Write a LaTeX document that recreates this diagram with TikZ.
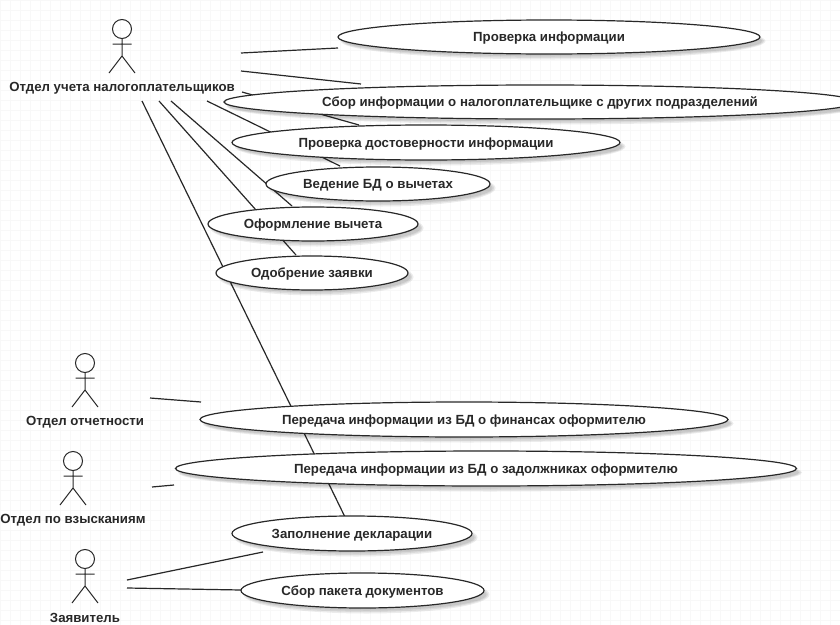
\documentclass[tikz,border=0pt]{standalone}
\usepackage{fontspec}
\setmainfont{Liberation Sans}
\usetikzlibrary{shapes.geometric}
\definecolor{gridc}{RGB}{248,248,248}
\definecolor{inkc}{RGB}{40,40,40}
\tikzset{
  uc/.style={ellipse,draw=inkc,line width=0.9pt,fill=white,inner sep=0pt,font=\bfseries\fontsize{9.93}{11}\selectfont,text=inkc,text depth=0pt},
  shadowc/.style={ellipse,fill=black,opacity=0.075,draw=none,inner sep=0pt},
  lnk/.style={draw=inkc,line width=0.9pt},
  stick/.style={draw=inkc,line width=0.75pt},
  head/.style={circle,draw=inkc,line width=0.75pt,inner sep=0pt,minimum size=14.25pt},
  lab/.style={font=\bfseries\fontsize{9.93}{11}\selectfont,text=inkc,inner sep=0pt},
}
\newcommand{\usecase}[6]{% name, cx, cy, w, h, text
  \foreach \g in {-1.5,0,1.5} {
    \node[shadowc,minimum width=(#4+\g*2)*0.75pt,minimum height=(#5+\g*2)*0.75pt] at (#2+4,#3+4) {};
  }
  \node[uc,minimum width=#4*0.75pt,minimum height=#5*0.75pt] (#1) at (#2,#3) {#6};
}
\newcommand{\actor}[4]{% name, x, heady, label
  \node[head] (#1) at (#2,#3) {};
  \coordinate (#1hip) at (#2,#3+27);
  \coordinate (#1al) at (#2-9.5,#3+15);
  \coordinate (#1ar) at (#2+9.5,#3+15);
  \coordinate (#1ll) at (#2-13,#3+44);
  \coordinate (#1lr) at (#2+13,#3+44);
  \draw[stick] (#1.south) -- (#1hip) (#1al) -- (#1ar) (#1ll) -- (#1hip) -- (#1lr);
  \node[lab] (#1lab) at (#2,#3+59) {#4};
}
\begin{document}
\begin{tikzpicture}[x=0.75pt,y=-0.75pt]
\useasboundingbox (0,0) rectangle (840,625);
\clip (0,0) rectangle (840,625);
\fill[white] (0,0) rectangle (840,625);
\draw[gridc,line width=0.4pt] foreach \i in {0,10,...,840} {(\i,0) -- (\i,625)} foreach \j in {0,10,...,620} {(0,\j) -- (840,\j)};
% connector ends
\coordinate (a1) at (241,53); \coordinate (b1) at (338,48);
\coordinate (a2) at (241,71); \coordinate (b2) at (361,84);
\coordinate (a3) at (242,92); \coordinate (b3) at (359,125);
\coordinate (a4) at (207,101); \coordinate (b4) at (340,166);
\coordinate (a5) at (171,101); \coordinate (b5) at (292,206);
\coordinate (a6) at (159,101); \coordinate (b6) at (296,255);
\coordinate (a7) at (142,101); \coordinate (b7) at (344.5,516);
\coordinate (a8) at (150,398); \coordinate (b8) at (201,402);
\coordinate (a9) at (152,487); \coordinate (b9) at (174,485);
\coordinate (a10) at (127,580); \coordinate (b10) at (263,552);
\coordinate (a11) at (127,588); \coordinate (b11) at (241,590);
\foreach \n in {1,...,11} {\draw[lnk] (a\n) -- (b\n);}
% use cases
\usecase{u1}{549}{37}{422}{34}{Проверка информации}
\usecase{u2}{540}{102}{632}{34}{Сбор информации о налогоплательщике с других подразделений}
\usecase{u3}{426}{142.5}{388}{35}{Проверка достоверности информации}
\usecase{u4}{378}{184}{224}{34}{Ведение БД о вычетах}
\usecase{u5}{313}{224}{210}{34}{Оформление вычета}
\usecase{u6}{312}{273}{192}{34}{Одобрение заявки}
\usecase{u7}{464}{419.5}{528}{35}{Передача информации из БД о финансах оформителю}
\usecase{u8}{486}{468.5}{621}{35}{Передача информации из БД о задолжниках оформителю}
\usecase{u9}{352}{533.5}{240}{35}{Заполнение декларации}
\usecase{u10}{362.5}{590.5}{243}{35}{Сбор пакета документов}
% actors
\actor{act1}{122}{29}{Отдел учета налогоплательщиков}
\actor{act2}{85}{363}{Отдел отчетности}
\actor{act3}{73}{461}{Отдел по взысканиям}
\actor{act4}{85}{559}{Заявитель}
\end{tikzpicture}
\end{document}
